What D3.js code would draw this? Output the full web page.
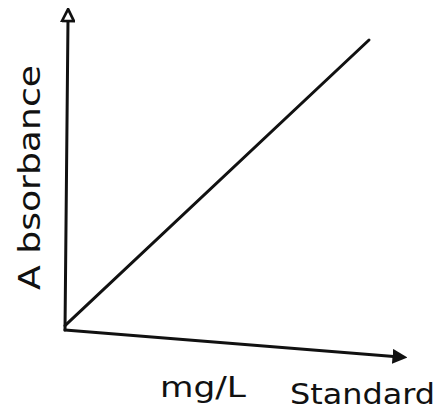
<!DOCTYPE html>
<html>
<head>
<meta charset="utf-8">
<script src="https://cdn.jsdelivr.net/npm/d3@7/dist/d3.min.js"></script>
<style>
  body { margin: 0; background: #fff; }
  text { font-family: "DejaVu Sans", sans-serif; fill: #111; }
</style>
</head>
<body>
<div id="graph"></div>
<script>
// calibration line, concentration (mg/L) vs absorbance (hand sketch)
const concentration = [0, 10];
const absorbance = [0.015, 1];
// hand-drawn axis ends (the x axis sags a bit)
const xAxisEnd = [11.02, -0.093];
const yAxisEnd = [0.1, 1.086];
const yLabel = "A bsorbance";
const xLabels = ["mg/L", "Standard"];

const width = 440, height = 414;

const svg = d3.select("#graph")
    .append("svg")
    .attr("width", width)
    .attr("height", height);

const xScale = d3.scaleLinear().domain([0, 10]).range([65, 369]);
const yScale = d3.scaleLinear().domain([0, 1]).range([330, 40]);

const defs = svg.append("defs");
defs.append("marker")
    .attr("id", "arrowY")
    .attr("viewBox", "0 0 10 10")
    .attr("refX", 5).attr("refY", 5)
    .attr("markerWidth", 5).attr("markerHeight", 5)
    .attr("orient", "auto")
    .append("path")
    .attr("d", "M1,1 L9,5 L1,9 Z")
    .attr("fill", "#fff")
    .attr("stroke", "#111")
    .attr("stroke-width", 1.8);
defs.append("marker")
    .attr("id", "arrowX")
    .attr("viewBox", "0 0 10 10")
    .attr("refX", 5).attr("refY", 5)
    .attr("markerWidth", 5).attr("markerHeight", 5)
    .attr("orient", "auto")
    .append("path")
    .attr("d", "M0,0 L10,5 L0,10 Z")
    .attr("fill", "#111");

const line = d3.line()
    .x(d => xScale(d[0]))
    .y(d => yScale(d[1]));

// axes
svg.append("path")
    .datum([[0, 0], yAxisEnd])
    .attr("d", line)
    .attr("fill", "none")
    .attr("stroke", "#111")
    .attr("stroke-width", 3)
    .attr("stroke-linecap", "round")
    .attr("marker-end", "url(#arrowY)");

svg.append("path")
    .datum([[0, 0], xAxisEnd])
    .attr("d", line)
    .attr("fill", "none")
    .attr("stroke", "#111")
    .attr("stroke-width", 3)
    .attr("stroke-linecap", "round")
    .attr("marker-end", "url(#arrowX)");

// data line
svg.append("path")
    .datum(concentration.map((c, i) => [c, absorbance[i]]))
    .attr("d", line)
    .attr("fill", "none")
    .attr("stroke", "#111")
    .attr("stroke-width", 3)
    .attr("stroke-linecap", "round");

// labels
svg.append("text")
    .attr("transform", "translate(40, 290) rotate(-90)")
    .attr("font-size", 30)
    .attr("textLength", 225)
    .attr("lengthAdjust", "spacingAndGlyphs")
    .text(yLabel);

svg.append("text")
    .attr("x", 160).attr("y", 397)
    .attr("font-size", 28)
    .attr("textLength", 86)
    .attr("lengthAdjust", "spacingAndGlyphs")
    .text(xLabels[0]);

svg.append("text")
    .attr("x", 290).attr("y", 404)
    .attr("font-size", 28)
    .attr("textLength", 145)
    .attr("lengthAdjust", "spacingAndGlyphs")
    .text(xLabels[1]);
</script>
</body>
</html>
